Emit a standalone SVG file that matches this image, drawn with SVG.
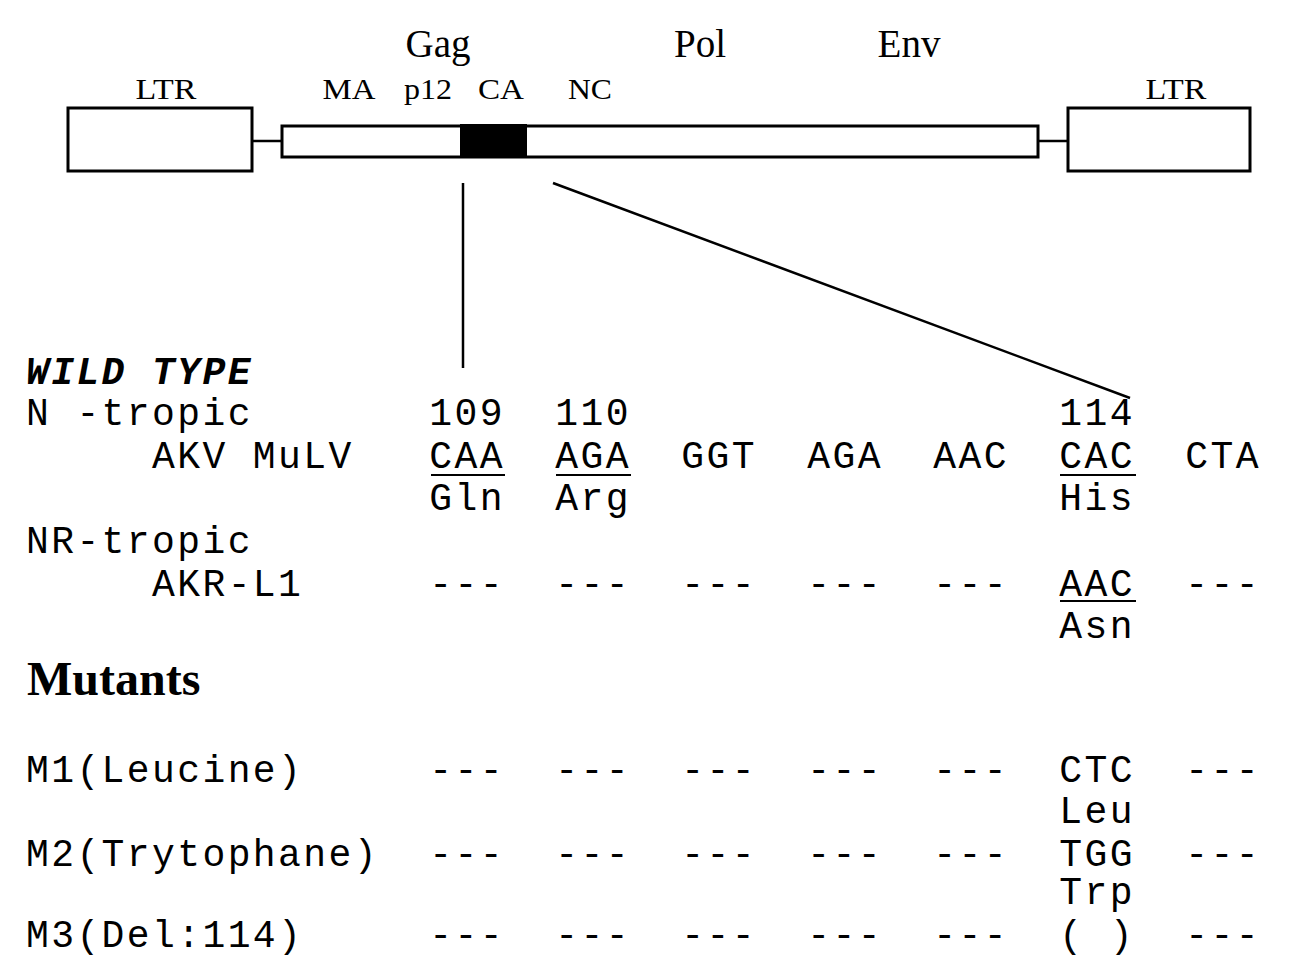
<svg xmlns="http://www.w3.org/2000/svg" width="1289" height="955" viewBox="0 0 1289 955">
<style>
.box{fill:#fff;stroke:#000;stroke-width:3}
.ln{stroke:#000;stroke-width:2.5;fill:none}
.ser{font-family:"Liberation Serif","Times New Roman",serif;fill:#000}
.mono{font-family:"Liberation Mono","Courier New",monospace;font-size:38px;letter-spacing:2.4px;fill:#000;white-space:pre}
.ul{stroke:#000;stroke-width:2}
</style>
<rect width="1289" height="955" fill="#fff"/>
<g id="genome">
<rect class="box" x="68" y="108" width="184" height="63"/>
<rect class="box" x="282" y="126" width="756" height="31"/>
<rect x="460" y="124" width="67" height="34" fill="#000"/>
<rect class="box" x="1068" y="108" width="182" height="63"/>
</g>
<g id="labels-top" class="ser">
<text x="438" y="57" font-size="39" text-anchor="middle">Gag</text>
<text x="700" y="57" font-size="39" text-anchor="middle">Pol</text>
<text x="909" y="57" font-size="39" text-anchor="middle">Env</text>
<text x="166" y="99" font-size="29" text-anchor="middle" textLength="61" lengthAdjust="spacingAndGlyphs">LTR</text>
<text x="349" y="99" font-size="29" text-anchor="middle" textLength="53" lengthAdjust="spacingAndGlyphs">MA</text>
<text x="428" y="99" font-size="29" text-anchor="middle" textLength="48" lengthAdjust="spacingAndGlyphs">p12</text>
<text x="501" y="99" font-size="29" text-anchor="middle" textLength="46" lengthAdjust="spacingAndGlyphs">CA</text>
<text x="590" y="99" font-size="29" text-anchor="middle" textLength="44" lengthAdjust="spacingAndGlyphs">NC</text>
<text x="1176" y="99" font-size="29" text-anchor="middle" textLength="61" lengthAdjust="spacingAndGlyphs">LTR</text>
</g>
<g id="connectors">
<line class="ln" x1="252" y1="141" x2="282" y2="141"/>
<line class="ln" x1="1038" y1="141" x2="1068" y2="141"/>
<line class="ln" x1="463" y1="183" x2="463" y2="368"/>
<line class="ln" x1="553" y1="183" x2="1130" y2="398"/>
</g>
<g id="table">
<text class="mono" x="26" y="384" font-weight="bold" font-style="italic">WILD TYPE</text>
<text class="mono" x="26" y="425">N -tropic       109  110                 114</text>
<text class="mono" x="26" y="468">     AKV MuLV   CAA  AGA  GGT  AGA  AAC  CAC  CTA</text>
<text class="mono" x="26" y="510">                Gln  Arg                 His</text>
<text class="mono" x="26" y="553">NR-tropic</text>
<text class="mono" x="26" y="596">     AKR-L1     ---  ---  ---  ---  ---  AAC  ---</text>
<text class="mono" x="26" y="638">                                         Asn</text>
<line class="ul" x1="431" y1="475" x2="505" y2="475"/>
<line class="ul" x1="556" y1="475" x2="631" y2="475"/>
<line class="ul" x1="1060" y1="475" x2="1136" y2="475"/>
<line class="ul" x1="1060" y1="601" x2="1136" y2="601"/>
</g>
<g id="mutants">
<text class="ser" x="27" y="695" font-size="48" font-weight="bold">Mutants</text>
<text class="mono" x="26" y="782">M1(Leucine)     ---  ---  ---  ---  ---  CTC  ---</text>
<text class="mono" x="26" y="823">                                         Leu</text>
<text class="mono" x="26" y="866">M2(Trytophane)  ---  ---  ---  ---  ---  TGG  ---</text>
<text class="mono" x="26" y="904">                                         Trp</text>
<text class="mono" x="26" y="947">M3(Del:114)     ---  ---  ---  ---  ---  ( )  ---</text>
</g>
</svg>
